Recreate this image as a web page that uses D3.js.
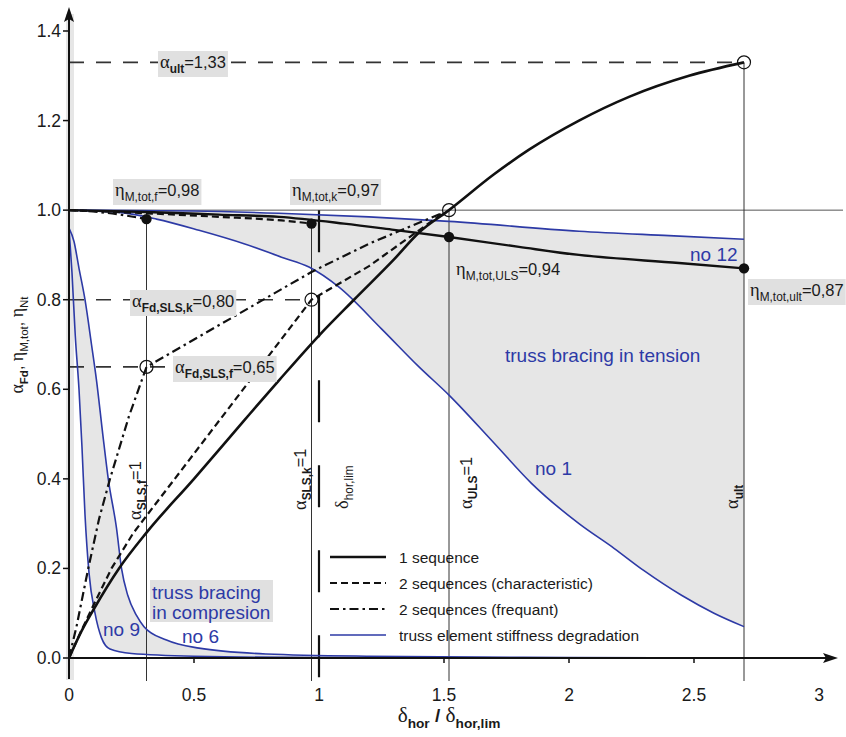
<!DOCTYPE html>
<html>
<head>
<meta charset="utf-8">
<script src="https://cdn.jsdelivr.net/npm/d3@7"></script>
<style>
  body { margin: 0; background: #fff; }
  svg { display: block; }
  text { font-family: 'Liberation Sans', Arial, sans-serif; fill: #1a1a1a; }
</style>
</head>
<body>
<div id="chart"></div>
<script>
// axes
var xTicks = [0, 0.5, 1, 1.5, 2, 2.5, 3]
var xTickLabels = ['0', '0.5', '1', '1.5', '2', '2.5', '3']
var yTicks = [0, 0.2, 0.4, 0.6, 0.8, 1.0, 1.2, 1.4]
var yTickLabels = ['0.0', '0.2', '0.4', '0.6', '0.8', '1.0', '1.2', '1.4']

// characteristic abscissae (δhor / δhor,lim)
var xSLSf = 0.31
var xSLSk = 0.97
var xLim = 1.0
var xULS = 1.52
var xUlt = 2.7

// α_Fd curves
var alphaOneSeq = [[0, 0], [0.05, 0.06], [0.1, 0.11], [0.2, 0.2], [0.31, 0.28], [0.5, 0.4], [0.7, 0.53], [0.84, 0.62], [1.0, 0.72], [1.14, 0.8], [1.3, 0.89], [1.4, 0.95], [1.52, 1.0], [1.7, 1.08], [1.84, 1.135], [2.04, 1.2], [2.24, 1.253], [2.48, 1.3], [2.7, 1.33]]
var alphaTwoSeqK = [[0, 0], [0.05, 0.062], [0.104, 0.125], [0.17, 0.2], [0.256, 0.278], [0.724, 0.62], [0.97, 0.8], [1.2, 0.875], [1.4, 0.955], [1.5, 0.995]]
var alphaTwoSeqF = [[0, 0], [0.03, 0.07], [0.077, 0.2], [0.12, 0.31], [0.164, 0.4], [0.24, 0.54], [0.31, 0.65], [0.97, 0.862], [1.2, 0.925], [1.5, 0.995]]

// η_M,tot curves
var etaOneSeq = [[0, 1.0], [0.31, 0.996], [0.6, 0.99], [0.84, 0.985], [1.1, 0.97], [1.3, 0.956], [1.52, 0.94], [1.8, 0.918], [2.04, 0.9], [2.44, 0.882], [2.7, 0.87]]
var etaTwoSeqK = [[0, 1.0], [0.31, 0.993], [0.6, 0.985], [0.85, 0.977], [0.97, 0.97]]
var etaTwoSeqF = [[0, 1.0], [0.15, 0.994], [0.31, 0.98]]

// truss element stiffness degradation η_Nt
var stiffNo12 = [[0, 1.0], [0.5, 0.998], [0.84, 0.993], [1.2, 0.985], [1.52, 0.975], [2.04, 0.953], [2.4, 0.943], [2.7, 0.935]]
var stiffNo1 = [[0, 1.0], [0.2, 0.995], [0.35, 0.98], [0.52, 0.955], [0.7, 0.925], [0.85, 0.895], [0.96, 0.873], [1.08, 0.828], [1.25, 0.735], [1.4, 0.65], [1.52, 0.587], [1.7, 0.48], [1.85, 0.39], [2.04, 0.3], [2.18, 0.245], [2.3, 0.195], [2.45, 0.14], [2.58, 0.1], [2.7, 0.07]]
var stiffNo6 = [[0, 0.96], [0.02, 0.93], [0.04, 0.87], [0.064, 0.8], [0.09, 0.7], [0.11, 0.62], [0.135, 0.5], [0.157, 0.4], [0.19, 0.29], [0.21, 0.2], [0.235, 0.14], [0.27, 0.095], [0.3, 0.07], [0.39, 0.04], [0.52, 0.022], [0.79, 0.009], [1.2, 0.004], [2, 0.001], [3, 0]]
var stiffNo9 = [[0, 0.96], [0.012, 0.86], [0.025, 0.72], [0.04, 0.6], [0.052, 0.47], [0.064, 0.32], [0.08, 0.19], [0.104, 0.1], [0.13, 0.045], [0.164, 0.02], [0.25, 0.01], [0.5, 0.004], [1.0, 0.001], [3, 0]]

// marked points
var filledDots = [[xSLSf, 0.98], [xSLSk, 0.97], [xULS, 0.94], [xUlt, 0.87]]
var openCircles = [[xSLSf, 0.65], [xSLSk, 0.8], [xULS, 1.0], [xUlt, 1.33]]

var legendItems = ['1 sequence', '2 sequences (characteristic)', '2 sequences (frequant)', 'truss element stiffness degradation']

var W = 846
var H = 737
var BLUE = '#2d3aa6'
var INK = '#111'
var SHADE = '#e6e6e6'
var GREEK = "'Liberation Serif', 'DejaVu Serif', serif"

var svg = d3.select('#chart').append('svg').attr('width', W).attr('height', H)

var x = d3.scaleLinear().domain([0, 3]).range([69, 819])
var y = d3.scaleLinear().domain([0, 1.4]).range([658, 31])

var line = d3.line().x(d => x(d[0])).y(d => y(d[1])).curve(d3.curveMonotoneX)
var straight = d3.line().x(d => x(d[0])).y(d => y(d[1]))

// band between two curves (upper forward, lower backward)
function band (upper, lower) {
  var back = line(lower.slice().reverse())
  return line(upper) + 'L' + back.slice(1) + 'Z'
}

// text with greek letters and subscripts
function rich (sel, parts, opt) {
  opt = opt || {}
  var size = opt.size || 16.5
  var t = sel.append('text').attr('text-anchor', opt.anchor || 'start')
  var shift = 0
  parts.forEach(function (p) {
    var kind = p[1] || ''
    var ts = t.append('tspan').text(p[0])
    var sub = kind.indexOf('s') >= 0
    var want = sub ? Math.round(size * 0.3) : 0
    if (want !== shift) { ts.attr('dy', want - shift); shift = want }
    if (kind.indexOf('g') >= 0) ts.attr('font-family', GREEK).attr('font-size', size * 1.12)
    else ts.attr('font-size', sub ? size * 0.72 : size)
    if (kind.indexOf('b') >= 0) ts.attr('font-weight', 'bold')
  })
  return t
}

function boxed (parts, px, py, opt) {
  var g = svg.append('g').attr('transform', 'translate(' + px + ',' + py + ')')
  var t = rich(g, parts, opt)
  if (!opt || opt.box !== false) {
    var b = t.node().getBBox()
    g.insert('rect', 'text')
      .attr('x', b.x - 2).attr('y', b.y - 1)
      .attr('width', b.width + 4).attr('height', b.height + 2)
      .attr('fill', '#e0e0e0')
  }
  return g
}

function vertical (parts, px, py, opt) {
  var g = svg.append('g').attr('transform', 'translate(' + px + ',' + py + ') rotate(-90)')
  rich(g, parts, opt)
  return g
}

// shaded regions
svg.append('rect').attr('x', 66).attr('y', 14).attr('width', 8).attr('height', 666).attr('fill', SHADE)
svg.append('path').attr('d', band(stiffNo12, stiffNo1)).attr('fill', SHADE)
svg.append('path').attr('d', band(stiffNo6, stiffNo9)).attr('fill', SHADE)

// thin reference line at 1.0
svg.append('line')
  .attr('x1', x(0)).attr('x2', 843).attr('y1', y(1)).attr('y2', y(1))
  .attr('stroke', '#555').attr('stroke-width', 1)

// vertical markers
var vmarks = [[xSLSf, 0.98], [xSLSk, 0.97], [xULS, 1.0], [xUlt, 1.33]]
svg.selectAll('line.vmark').data(vmarks).enter().append('line')
  .attr('class', 'vmark')
  .attr('x1', d => x(d[0])).attr('x2', d => x(d[0]))
  .attr('y1', d => y(d[1])).attr('y2', 681)
  .attr('stroke', '#333').attr('stroke-width', 1)

// δhor,lim
svg.append('line')
  .attr('x1', x(xLim)).attr('x2', x(xLim)).attr('y1', y(1)).attr('y2', 680)
  .attr('stroke', INK).attr('stroke-width', 2.2).attr('stroke-dasharray', '42,43')

// horizontal dashed α levels
var levels = [[1.33, x(xUlt)], [0.8, x(xSLSk)], [0.65, 172]]
svg.selectAll('line.level').data(levels).enter().append('line')
  .attr('x1', x(0)).attr('x2', d => d[1])
  .attr('y1', d => y(d[0])).attr('y2', d => y(d[0]))
  .attr('stroke', '#333').attr('stroke-width', 1.6).attr('stroke-dasharray', '15,12')

// stiffness curves
;[stiffNo12, stiffNo1, stiffNo6, stiffNo9].forEach(function (c) {
  svg.append('path').attr('d', line(c)).attr('fill', 'none').attr('stroke', BLUE).attr('stroke-width', 1.6)
})

// α and η curves
var styles = [
  [alphaOneSeq, 2.6, null, line], [etaOneSeq, 2.4, null, line],
  [alphaTwoSeqK, 2.2, '7,4', straight], [etaTwoSeqK, 2.2, '7,4', line],
  [alphaTwoSeqF, 2.2, '9,4,2.5,4', straight], [etaTwoSeqF, 2.2, '9,4,2.5,4', line]
]
styles.forEach(function (s) {
  svg.append('path').attr('d', s[3](s[0])).attr('fill', 'none')
    .attr('stroke', INK).attr('stroke-width', s[1]).attr('stroke-dasharray', s[2])
    .attr('stroke-linejoin', 'round')
})

svg.selectAll('circle.dot').data(filledDots).enter().append('circle')
  .attr('cx', d => x(d[0])).attr('cy', d => y(d[1])).attr('r', 5.2).attr('fill', INK)
svg.selectAll('circle.open').data(openCircles).enter().append('circle')
  .attr('cx', d => x(d[0])).attr('cy', d => y(d[1])).attr('r', 6.5)
  .attr('fill', 'none').attr('stroke', INK).attr('stroke-width', 1.2)

// axes
svg.append('line').attr('x1', x(0)).attr('x2', 828).attr('y1', y(0)).attr('y2', y(0))
  .attr('stroke', INK).attr('stroke-width', 2)
svg.append('path').attr('d', 'M838,' + y(0) + 'L823,' + (y(0) - 5) + 'L826,' + y(0) + 'L823,' + (y(0) + 5) + 'Z').attr('fill', INK)
svg.append('line').attr('x1', x(0)).attr('x2', x(0)).attr('y1', 18).attr('y2', 679)
  .attr('stroke', INK).attr('stroke-width', 2)
svg.append('path').attr('d', 'M' + x(0) + ',7L' + (x(0) - 5) + ',22L' + x(0) + ',19L' + (x(0) + 5) + ',22Z').attr('fill', INK)

svg.selectAll('line.ytick').data(yTicks).enter().append('line')
  .attr('x1', x(0) - 6).attr('x2', x(0)).attr('y1', d => y(d)).attr('y2', d => y(d))
  .attr('stroke', INK).attr('stroke-width', 1.5)
svg.selectAll('text.ylab').data(yTicks).enter().append('text')
  .attr('x', 61).attr('y', d => y(d) + 6).attr('text-anchor', 'end')
  .attr('font-size', 17.5).text((d, i) => yTickLabels[i])

svg.selectAll('line.xtick').data(xTicks.slice(1, -1)).enter().append('line')
  .attr('x1', d => x(d)).attr('x2', d => x(d)).attr('y1', y(0)).attr('y2', y(0) + 5)
  .attr('stroke', INK).attr('stroke-width', 1.5)
svg.selectAll('text.xlab').data(xTicks).enter().append('text')
  .attr('x', d => x(d)).attr('y', 701).attr('text-anchor', 'middle')
  .attr('font-size', 17.5).text((d, i) => xTickLabels[i])

// axis titles
var xt = svg.append('g').attr('transform', 'translate(449,722)')
rich(xt, [['δ', 'g'], ['hor', 'sb'], [' / ', 'b'], ['δ', 'g'], ['hor,lim', 'sb']], { size: 19, anchor: 'middle' })
vertical([['α', 'g'], ['Fd', 'sb'], [', ', ''], ['η', 'g'], ['M,tot', 's'], [', ', ''], ['η', 'g'], ['Nt', 's']], 23, 345, { size: 16, anchor: 'middle' })

// value labels
boxed([['α', 'g'], ['ult', 'sb'], ['=1,33', '']], 160, 68, { size: 16.5 })
boxed([['η', 'g'], ['M,tot,f', 's'], ['=0,98', '']], 115, 196, { size: 16.5 })
boxed([['η', 'g'], ['M,tot,k', 's'], ['=0,97', '']], 292, 196, { size: 16.5 })
boxed([['η', 'g'], ['M,tot,ULS', 's'], ['=0,94', '']], 456, 275, { size: 16.5, box: false })
boxed([['η', 'g'], ['M,tot,ult', 's'], ['=0,87', '']], 750, 296, { size: 16.5 })
boxed([['α', 'g'], ['Fd,SLS,k', 'sb'], ['=0,80', '']], 132, 307, { size: 16.5 })
boxed([['α', 'g'], ['Fd,SLS,f', 'sb'], ['=0,65', '']], 175, 373, { size: 16.5 })

// vertical marker labels
vertical([['α', 'g'], ['SLS,f', 'sb'], ['=1', '']], 141, 520, { size: 16.5 })
vertical([['α', 'g'], ['SLS,k', 'sb'], ['=1', '']], 306, 510, { size: 16.5 })
vertical([['δ', 'g'], ['hor,lim', 's']], 348, 509, { size: 16.5 })
vertical([['α', 'g'], ['ULS', 'sb'], ['=1', '']], 472, 509, { size: 16.5 })
vertical([['α', 'g'], ['ult', 'sb']], 738, 509, { size: 16.5 })

// region labels
function blueText (txt, px, py) {
  return svg.append('text').attr('x', px).attr('y', py).attr('font-size', 19)
    .style('fill', BLUE).text(txt)
}
blueText('truss bracing in tension', 505, 362)
blueText('no 1', 535, 475)
blueText('no 12', 690, 261)
blueText('no 9', 103, 636)
blueText('no 6', 182, 643)
var comp = svg.append('g')
comp.append('rect').attr('x', 150).attr('y', 580).attr('width', 123).attr('height', 42).attr('fill', '#e0e0e0')
blueText('truss bracing', 152, 599)
blueText('in compresion', 152, 619)

// legend
var lg = svg.append('g').attr('transform', 'translate(330,557)')
var legendStyles = [[INK, 2.6, null], [INK, 2.2, '7,4'], [INK, 2.2, '9,4,2.5,4'], [BLUE, 1.6, null]]
legendItems.forEach(function (name, i) {
  var s = legendStyles[i]
  lg.append('line').attr('x1', 0).attr('x2', 56).attr('y1', i * 26).attr('y2', i * 26)
    .attr('stroke', s[0]).attr('stroke-width', s[1]).attr('stroke-dasharray', s[2])
  lg.append('text').attr('x', 69).attr('y', i * 26 + 5.5).attr('font-size', 15.5).text(name)
})
</script>
</body>
</html>
